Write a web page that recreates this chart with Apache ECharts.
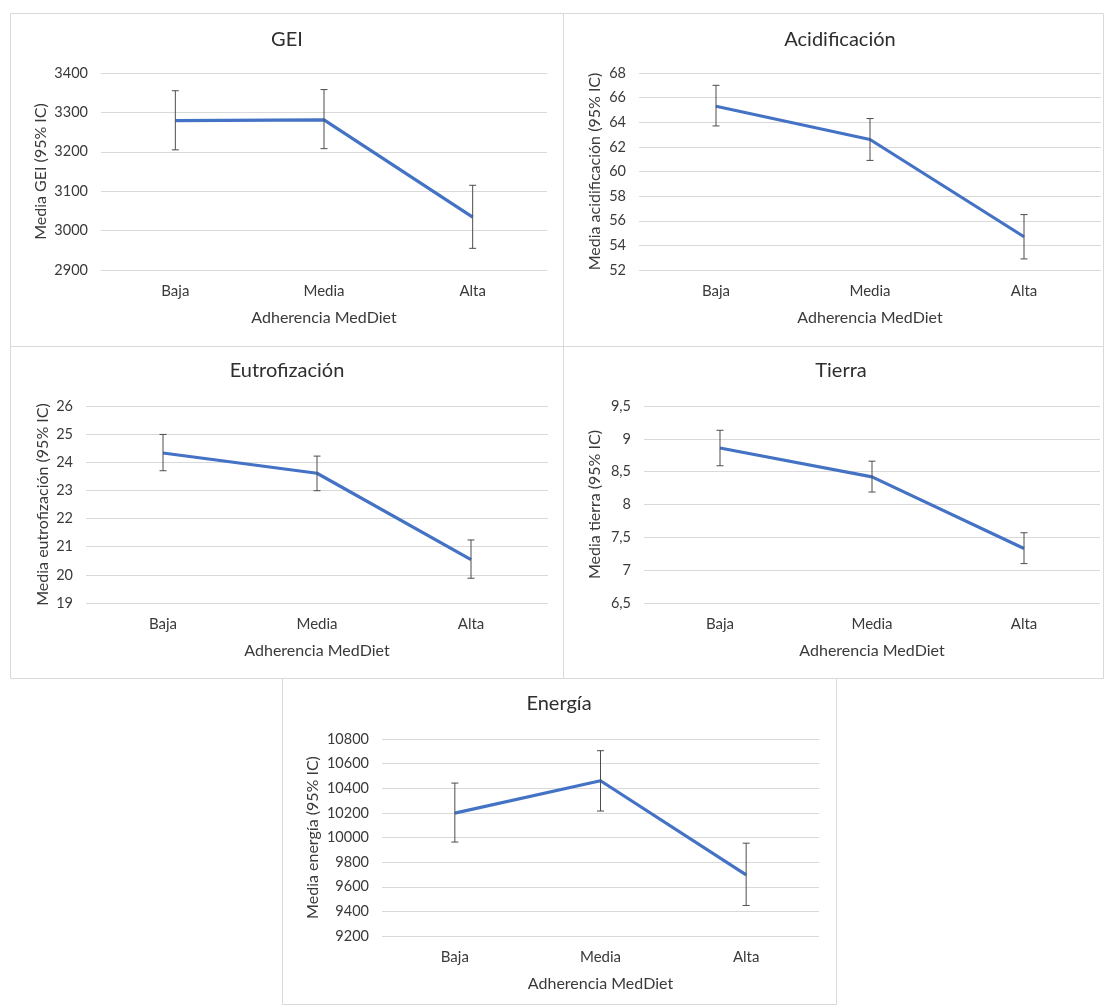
<!DOCTYPE html>
<html>
<head>
<meta charset="utf-8">
<script src="https://cdn.jsdelivr.net/npm/echarts@6/dist/echarts.min.js"></script>
<style>
html,body{margin:0;padding:0;background:#fff;}
#c{width:1105px;height:1006px;}
</style>
</head>
<body>
<div id="c"></div>
<script>
// ---- data ----
const categories = ['Baja', 'Media', 'Alta'];

const geiMean = [3279, 3281, 3034];
const geiLow  = [3205, 3208, 2955];
const geiHigh = [3355, 3358, 3115];

const acidMean = [65.3, 62.6, 54.7];
const acidLow  = [63.7, 60.9, 52.9];
const acidHigh = [67.0, 64.3, 56.5];

const eutroMean = [24.33, 23.61, 20.54];
const eutroLow  = [23.70, 22.99, 19.88];
const eutroHigh = [24.99, 24.22, 21.24];

const tierraMean = [8.86, 8.42, 7.33];
const tierraLow  = [8.59, 8.19, 7.10];
const tierraHigh = [9.13, 8.66, 7.57];

const energiaMean = [10198, 10461, 9697];
const energiaLow  = [9963, 10215, 9448];
const energiaHigh = [10442, 10705, 9954];

const titles = ['GEI', 'Acidificación', 'Eutrofización', 'Tierra', 'Energía'];
const yNames = ['Media GEI (95% IC)', 'Media acidificación (95% IC)', 'Media eutrofización (95% IC)',
                'Media tierra (95% IC)', 'Media energía (95% IC)'];
const xName = 'Adherencia MedDiet';

// ---- layout/style ----
const FONT = 'Lato, "Open Sans", sans-serif';
const TXT = '#3a3a3a';
const GRIDC = '#d9d9d9';
const LINEC = '#4472C4';

const panels = [
  {mean: geiMean, low: geiLow, high: geiHigh, min: 2900, max: 3400, interval: 100,
   grid: {left: 101, top: 73, width: 446, height: 197}, tx: 287, ty: 30, yGap: 52, box: [10, 13, 553, 333]},
  {mean: acidMean, low: acidLow, high: acidHigh, min: 52, max: 68, interval: 2,
   grid: {left: 639, top: 73, width: 462, height: 197}, tx: 840, ty: 30, yGap: 36, box: [563, 13, 540, 333]},
  {mean: eutroMean, low: eutroLow, high: eutroHigh, min: 19, max: 26, interval: 1,
   grid: {left: 86, top: 406, width: 462, height: 197}, tx: 287, ty: 361, yGap: 35, box: [10, 346, 553, 332]},
  {mean: tierraMean, low: tierraLow, high: tierraHigh, min: 6.5, max: 9.5, interval: 0.5, comma: true,
   grid: {left: 644, top: 406, width: 456, height: 197}, tx: 841, ty: 361, yGap: 41, box: [563, 346, 540, 332]},
  {mean: energiaMean, low: energiaLow, high: energiaHigh, min: 9200, max: 10800, interval: 200,
   grid: {left: 382, top: 739, width: 437, height: 197}, tx: 559, ty: 694, yGap: 61, box: [282, 678, 554, 326]}
];

const grid = [], xAxis = [], yAxis = [], series = [], title = [], graphics = [];

panels.forEach((p, i) => {
  grid.push(Object.assign({containLabel: false}, p.grid));
  title.push({
    text: titles[i], left: p.tx, top: p.ty, textAlign: 'center', padding: 0,
    textStyle: {fontFamily: FONT, fontSize: 20, fontWeight: 'normal', color: '#2e2e2e'}
  });
  xAxis.push({
    type: 'category', gridIndex: i, data: categories, boundaryGap: true,
    axisLine: {show: false}, axisTick: {show: false},
    axisLabel: {color: TXT, fontFamily: FONT, fontSize: 15, margin: 14},
    name: xName, nameLocation: 'middle', nameGap: 40,
    nameTextStyle: {color: TXT, fontFamily: FONT, fontSize: 16}
  });
  yAxis.push({
    type: 'value', gridIndex: i, min: p.min, max: p.max, interval: p.interval,
    axisLine: {show: false}, axisTick: {show: false},
    splitLine: {lineStyle: {color: GRIDC, width: 1}},
    axisLabel: {color: TXT, fontFamily: FONT, fontSize: 14.5, margin: 13,
      formatter: v => p.comma ? String(v).replace('.', ',') : String(v)},
    name: yNames[i], nameLocation: 'middle', nameGap: p.yGap,
    nameTextStyle: {color: TXT, fontFamily: FONT, fontSize: 16}
  });
  series.push({
    type: 'line', xAxisIndex: i, yAxisIndex: i, data: p.mean,
    symbol: 'none', lineStyle: {color: LINEC, width: 3.2}, z: 3, animation: false
  });
  series.push({
    type: 'custom', xAxisIndex: i, yAxisIndex: i, z: 4, animation: false,
    data: categories.map((c, k) => [k, p.low[k], p.high[k]]),
    renderItem: function (params, api) {
      const lo = api.coord([api.value(0), api.value(1)]);
      const hi = api.coord([api.value(0), api.value(2)]);
      const w = 3.5;
      const st = {stroke: '#4d4d4d', lineWidth: 1};
      return {type: 'group', children: [
        {type: 'line', shape: {x1: lo[0], y1: lo[1], x2: hi[0], y2: hi[1]}, style: st},
        {type: 'line', shape: {x1: lo[0] - w, y1: lo[1], x2: lo[0] + w, y2: lo[1]}, style: st},
        {type: 'line', shape: {x1: hi[0] - w, y1: hi[1], x2: hi[0] + w, y2: hi[1]}, style: st}
      ]};
    }
  });
  graphics.push({
    type: 'rect', silent: true, z: -1,
    shape: {x: p.box[0] + 0.5, y: p.box[1] + 0.5, width: p.box[2], height: p.box[3]},
    style: {fill: null, stroke: GRIDC, lineWidth: 1}
  });
});

const chart = echarts.init(document.getElementById('c'), null, {renderer: 'canvas'});
chart.setOption({
  backgroundColor: '#ffffff',
  animation: false,
  title: title,
  grid: grid,
  xAxis: xAxis,
  yAxis: yAxis,
  series: series,
  graphic: graphics
});
</script>
</body>
</html>
